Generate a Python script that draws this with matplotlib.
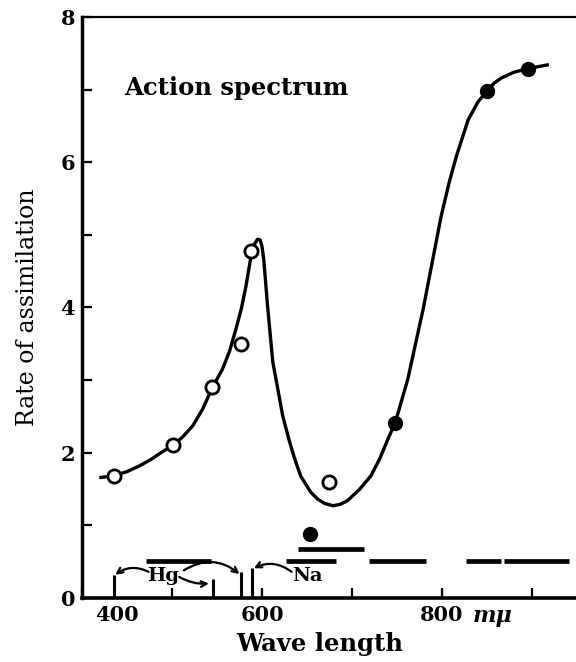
import matplotlib
matplotlib.use('Agg')
import matplotlib.pyplot as plt
import matplotlib.transforms as mtransforms

# 측정점 (파장 mμ, 동화 속도)
open_wl = [435, 501, 545, 577, 588, 674]
open_rate = [1.68, 2.10, 2.90, 3.50, 4.78, 1.60]
filled_wl = [653, 748, 850, 896]
filled_rate = [0.88, 2.41, 6.98, 7.29]

# 손으로 그린 곡선 (그림에서 읽은 점)
curve_wl = [421, 434, 450, 464, 477, 490, 501, 512, 523, 534, 545, 556, 564, 571, 577, 582,
            585, 588, 592, 595, 598, 600, 602, 606, 612, 618, 623, 630, 636, 643, 654, 662, 670, 679,
            687, 695, 708, 721, 731, 740, 748, 762, 779, 799, 808, 816, 829, 840, 850, 858,
            866, 880, 896, 917]
curve_rate = [1.66, 1.68, 1.74, 1.82, 1.91, 2.02, 2.10, 2.22, 2.37, 2.60, 2.90, 3.15, 3.40, 3.70, 3.98, 4.28,
              4.50, 4.72, 4.88, 4.94, 4.93, 4.84, 4.66, 4.05, 3.25, 2.85, 2.51, 2.18, 1.93, 1.68, 1.46, 1.36, 1.30, 1.27,
              1.29, 1.34, 1.49, 1.68, 1.92, 2.19, 2.41, 3.01, 3.97, 5.25, 5.72, 6.08, 6.58, 6.83, 6.98, 7.09,
              7.16, 7.24, 7.29, 7.34]

# 광원 대역폭 막대
band_lo = [471, 640, 627, 719, 827, 869]
band_hi = [543, 713, 682, 782, 866, 941]
band_rate = [0.51, 0.68, 0.51, 0.51, 0.51, 0.51]

# Hg / Na 선 위치
line_wl = [436, 546, 577, 589]
line_top = [0.32, 0.26, 0.36, 0.41]

x_ticks = [400, 500, 600, 700, 800, 900]
x_ticklabels = ['400', '', '600', '', '800', '']
y_ticks = [0, 2, 4, 6, 8]

plt.rcParams['font.family'] = 'DejaVu Serif'
plt.rcParams['font.weight'] = 'bold'

fig = plt.figure(figsize=(5.76, 6.62), dpi=100)
ax = fig.add_axes([0.1424, 0.0967, 0.8576, 0.8776])

ax.plot(curve_wl, curve_rate, color='black', lw=2.4, zorder=2, solid_joinstyle='round')
ax.plot(open_wl, open_rate, 'o', ms=9.5, mfc='white', mec='black', mew=2, zorder=3)
ax.plot(filled_wl, filled_rate, 'o', ms=10, color='black', zorder=3)

ax.hlines(band_rate, band_lo, band_hi, color='black', lw=3.4)
ax.vlines(line_wl, 0, line_top, color='black', lw=2.2)

# Hg, Na 표시
ax.text(490, 0.30, 'Hg', ha='center', va='center', fontsize=14)
ax.text(651, 0.30, 'Na', ha='center', va='center', fontsize=14)
arrow = dict(arrowstyle='->', lw=1.6, color='black', shrinkA=0, shrinkB=0)
ax.annotate('', xy=(437, 0.32), xytext=(474, 0.36),
            arrowprops=dict(arrow, connectionstyle='arc3,rad=0.3'))
ax.annotate('', xy=(541, 0.20), xytext=(508, 0.29),
            arrowprops=dict(arrow, connectionstyle='arc3,rad=0.15'))
ax.annotate('', xy=(575, 0.33), xytext=(513, 0.38),
            arrowprops=dict(arrow, connectionstyle='arc3,rad=-0.35'))
ax.annotate('', xy=(591, 0.41), xytext=(633, 0.36),
            arrowprops=dict(arrow, connectionstyle='arc3,rad=0.3'))

ax.text(447, 7.02, 'Action spectrum', ha='left', va='center', fontsize=17.5)

ax.set_xlim(400, 949)
ax.set_ylim(0, 8)

ax.set_xticks(x_ticks)
ax.set_xticklabels(x_ticklabels)
ax.set_yticks(y_ticks)
ax.set_yticks([1, 3, 5, 7], minor=True)
ax.tick_params(which='both', direction='in', length=7, width=1.6, labelsize=15, pad=5)

# 400 라벨은 축에서 오른쪽으로 밀려 있음
first = ax.get_xticklabels()[0]
first.set_transform(first.get_transform() +
                    mtransforms.ScaledTranslation(0.35, 0, fig.dpi_scale_trans))

ax.text(834, -0.012, 'm\u03bc', transform=ax.get_xaxis_transform(),
        ha='left', va='top', fontsize=16, style='italic')

ax.set_xlabel('Wave length', fontsize=17.5, fontweight='bold')
ax.xaxis.set_label_coords(0.482, -0.058)
ax.set_ylabel('Rate of assimilation', fontsize=17)
ax.yaxis.set_label_coords(-0.087, 0.5)

ax.spines['right'].set_visible(False)
ax.spines['top'].set_linewidth(1.6)
ax.spines['left'].set_linewidth(2.5)
ax.spines['bottom'].set_linewidth(2.6)

fig.savefig('out.png', dpi=100)
